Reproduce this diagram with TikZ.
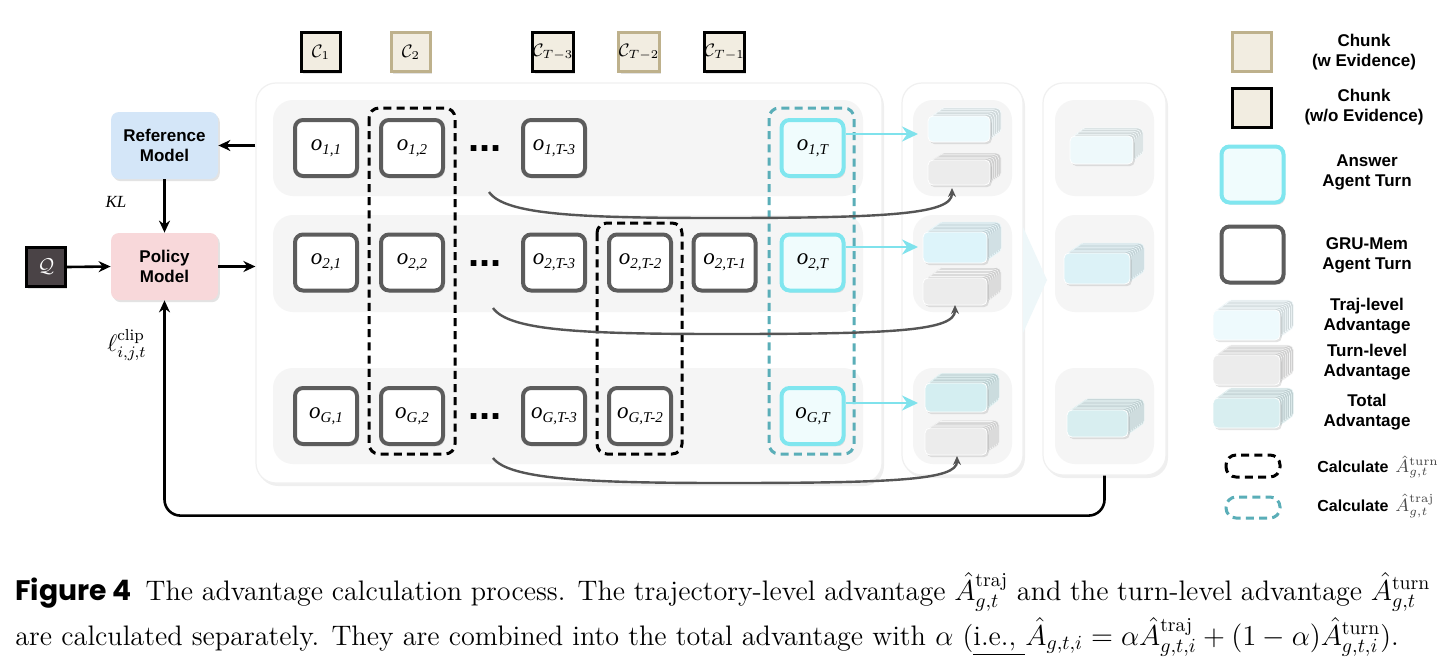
\documentclass[tikz,border=0pt]{standalone}
\usepackage{amsmath}
\usepackage{fontspec}
\newfontfamily\hv{Liberation Sans}
\newfontfamily\tms{Liberation Serif}
\newfontfamily\pop{Poppins}
\usetikzlibrary{arrows.meta,shadows,calc}

\definecolor{chunkfill}{HTML}{F2EDE1}
\definecolor{tanc}{HTML}{BEB18C}
\definecolor{ogray}{HTML}{5C5C5C}
\definecolor{cyanb}{HTML}{80E6EF}
\definecolor{ansfill}{HTML}{F0FCFD}
\definecolor{bandc}{HTML}{F5F5F5}
\definecolor{refc}{HTML}{D4E6F8}
\definecolor{polc}{HTML}{F8D8DA}
\definecolor{qc}{HTML}{4A4346}
\definecolor{tealc}{HTML}{5AAEB8}
\definecolor{arrc}{HTML}{7FE2EC}
\definecolor{curvc}{HTML}{555555}
\definecolor{trajA}{HTML}{EEFAFD}
\definecolor{trajB}{HTML}{DDF4FA}
\definecolor{trajC}{HTML}{D4EEF1}
\definecolor{turnc}{HTML}{ECECEC}
\definecolor{totA}{HTML}{EEF9FB}
\definecolor{totB}{HTML}{DCF2F7}
\definecolor{totC}{HTML}{D8EEF0}
\definecolor{chev}{HTML}{EEF7F9}

\tikzset{
 softshadow/.style={drop shadow={opacity=0.22,shadow xshift=0.9pt,shadow yshift=-1.1pt}},
 panel/.style={fill=white,draw=black!6,line width=0.6pt,rounded corners=10pt,
   drop shadow={opacity=0.12,shadow xshift=1pt,shadow yshift=-1.5pt},inner sep=0pt},
 obox/.style={draw=ogray,line width=2pt,fill=white,rounded corners=4pt,minimum width=31pt,
   minimum height=28pt,inner sep=0pt,softshadow},
 abox/.style={obox,draw=cyanb,fill=ansfill},
 chunkw/.style={draw=tanc,fill=chunkfill,line width=1.5pt,minimum size=19.5pt,inner sep=0pt,
   softshadow,font=\fontsize{9}{11}\selectfont},
 chunko/.style={chunkw,draw=black},
 model/.style={rounded corners=4pt,minimum width=53.5pt,minimum height=33.5pt,align=center,
   inner sep=0pt,font=\hv\bfseries\fontsize{8.5}{10}\selectfont,softshadow},
 blackarrow/.style={-{Stealth[length=6pt,width=5.5pt]},line width=1.3pt},
 cyanarrow/.style={-{Stealth[length=8pt,width=7.5pt]},line width=1.2pt,draw=arrc},
 curvearrow/.style={-{Stealth[length=4.5pt,width=4pt]},line width=1.2pt,draw=curvc},
 grpdash/.style={line width=1.5pt,dash pattern=on 4pt off 2.6pt,rounded corners=5pt},
 legtext/.style={font=\hv\bfseries\fontsize{8.5}{10}\selectfont,align=center},
 ellipsisdots/.style={font=\hv\bfseries\fontsize{20}{20}\selectfont,inner sep=0pt,anchor=base},
 captext/.style={anchor=base west,inner sep=0pt,font=\fontsize{14.1}{17}\selectfont},
}

\newcommand\olab[1]{{\tms\itshape\fontsize{11.5}{12}\selectfont o\raisebox{-2.2pt}{\fontsize{7.5}{8}\selectfont #1}}}

\newcommand\advstack[8]{%
 \foreach \k in {#5,...,1}{%
   \draw[rounded corners=2.5pt,fill=#8!72!gray,draw=#8!55!white,line width=0.3pt]
     ({#1+\k*#6},{#2+\k*#7}) rectangle ++(#3,#4);
 }%
 \draw[rounded corners=2.5pt,fill=#8,draw=white,line width=0.4pt,softshadow] (#1,#2) rectangle ++(#3,#4);
}

\begin{document}
\begin{tikzpicture}[x=0.5pt,y=-0.5pt]
\useasboundingbox (0,0) rectangle (1449,669);
\fill[white] (0,0) rectangle (1449,669);

% panels
\node[panel,minimum width=313pt,minimum height=200pt] (mainp) at (569,283) {};
\node[panel,minimum width=60.5pt,minimum height=196pt] (advp) at (962.5,279) {};
\node[panel,minimum width=61.5pt,minimum height=196pt] (totp) at (1104.5,279) {};
\fill[chev] (1023,227) -- (1047,280) -- (1023,333) -- cycle;

% bands
\foreach \ya/\yb in {100/196,215/312,368/464}{
  \fill[bandc,rounded corners=10pt] (273,\ya) rectangle (863,\yb);
  \fill[bandc,rounded corners=10pt] (913,\ya) rectangle (1012,\yb);
  \fill[bandc,rounded corners=10pt] (1055,\ya) rectangle (1154,\yb);
}

% chunks
\node[chunko] (c1) at (321,52) {$\mathcal{C}_1$};
\node[chunkw] (c2) at (411,52) {$\mathcal{C}_2$};
\node[chunko] (c3) at (553,52) {$\mathcal{C}_{T-3}$};
\node[chunkw] (c4) at (639,52) {$\mathcal{C}_{T-2}$};
\node[chunko] (c5) at (724.5,52) {$\mathcal{C}_{T-1}$};

% dashed groups
\draw[grpdash] (369,108) rectangle (455,454);
\draw[grpdash] (597,223) rectangle (682,454);
\draw[grpdash,draw=tealc] (769,108) rectangle (854,454);

% turns
\node[obox] (o11) at (326,148) {\olab{1,1}};
\node[obox] (o12) at (412,148) {\olab{1,2}};
\node[obox] (o13) at (554,148) {\olab{1,T-3}};
\node[abox] (o1T) at (812.5,148) {\olab{1,T}};
\node[obox] (o21) at (326,262.5) {\olab{2,1}};
\node[obox] (o22) at (412,262.5) {\olab{2,2}};
\node[obox] (o23) at (554,262.5) {\olab{2,T-3}};
\node[obox] (o24) at (640,262.5) {\olab{2,T-2}};
\node[obox] (o25) at (724.5,262.5) {\olab{2,T-1}};
\node[abox] (o2T) at (812.5,262.5) {\olab{2,T}};
\node[obox] (oG1) at (326,416) {\olab{G,1}};
\node[obox] (oG2) at (412,416) {\olab{G,2}};
\node[obox] (oG3) at (554,416) {\olab{G,T-3}};
\node[obox] (oG4) at (640,416) {\olab{G,T-2}};
\node[abox] (oGT) at (812.5,416) {\olab{G,T}};

\node[ellipsisdots] (d1) at (485,151) {...};
\node[ellipsisdots] (d2) at (485,266) {...};
\node[ellipsisdots] (d3) at (485,419) {...};

% advantage stacks
\advstack{928}{116}{62}{26}{5}{2.2}{-1.6}{trajA}
\advstack{928}{160}{62}{25}{5}{2.2}{-1.4}{turnc}
\advstack{923}{232}{64}{31}{7}{2}{-1.4}{trajB}
\advstack{923}{278}{64}{27}{7}{2}{-1.5}{turnc}
\advstack{925}{383}{62}{29}{6}{2}{-1.6}{trajC}
\advstack{925}{428}{62}{27}{6}{2}{-1.3}{turnc}
\advstack{1070}{136}{63}{28}{5}{2}{-1.6}{totA}
\advstack{1064}{253}{66}{31}{7}{2}{-1.4}{totB}
\advstack{1067}{410}{61}{27}{8}{2}{-1.4}{totC}

% cyan arrows
\coordinate (t1) at (918,134);
\coordinate (t2) at (918,247);
\coordinate (t3) at (918,403);
\draw[cyanarrow] (o1T.east |- t1) -- (t1);
\draw[cyanarrow] (o2T.east |- t2) -- (t2);
\draw[cyanarrow] (oGT.east |- t3) -- (t3);

% curved arrows
\coordinate (s1) at (489,192); \coordinate (e1) at (952,188);
\coordinate (s2) at (493,308); \coordinate (e2) at (955,305);
\coordinate (s3) at (493,458); \coordinate (e3) at (957,456);
\draw[curvearrow] (s1) .. controls (505,215) and (580,218) .. (720,218) .. controls (890,218) and (952,214) .. (e1);
\draw[curvearrow] (s2) .. controls (509,331) and (584,334) .. (724,334) .. controls (893,334) and (955,331) .. (e2);
\draw[curvearrow] (s3) .. controls (509,479) and (584,483) .. (724,483) .. controls (895,483) and (957,480) .. (e3);

% models
\node[model,fill=refc] (ref) at (164.5,145.5) {Reference\\Model};
\node[model,fill=polc] (pol) at (164.5,266.5) {Policy\\Model};
\node[draw=black,line width=1.2pt,fill=qc,minimum size=19.5pt,inner sep=0pt,text=white,softshadow,
  font=\fontsize{10}{12}\selectfont] (q) at (46,267) {$\mathcal{Q}$};
\draw[blackarrow] (mainp.west |- ref.east) -- (ref.east);
\draw[blackarrow] (ref.south) -- (pol.north);
\draw[blackarrow] (q.east) -- (pol.west);
\draw[blackarrow] (pol.east) -- (pol.east -| mainp.west);
\draw[blackarrow,rounded corners=8pt] (totp.south) -- ++(0,40) -| (pol.south);

\node[font=\tms\itshape\fontsize{8.5}{10}\selectfont] (kl) at (116,202) {KL};
\node[font=\fontsize{12}{14}\selectfont] (lclip) at (127,345) {$\ell^{\mathrm{clip}}_{i,j,t}$};

% legend
\node[chunkw] (lc1) at (1251.5,51.5) {};
\node[legtext] (lt1) at (1364,52) {Chunk\\(w Evidence)};
\node[chunko] (lc2) at (1251.5,107.5) {};
\node[legtext] (lt2) at (1364,107) {Chunk\\(w/o Evidence)};
\node[abox] (la) at (1252.5,174.5) {};
\node[legtext] (lt3) at (1367,172) {Answer\\Agent Turn};
\node[obox] (lg) at (1252.5,254.5) {};
\node[legtext] (lt4) at (1367,255) {GRU-Mem\\Agent Turn};
\advstack{1213}{310}{67}{30}{7}{1.9}{-1.4}{trajA}
\advstack{1213}{355}{67}{30}{7}{1.9}{-1.4}{turnc}
\advstack{1213}{398}{67}{30}{7}{1.9}{-1.4}{totC}
\node[legtext] (lt5) at (1367,316) {Traj-level\\Advantage};
\node[legtext] (lt6) at (1367,362) {Turn-level\\Advantage};
\node[legtext] (lt7) at (1367,412) {Total\\Advantage};
\draw[grpdash] (1226,455) rectangle (1280,477);
\draw[grpdash,draw=tealc] (1226,497) rectangle (1280,518);
\node[legtext,anchor=west,inner sep=0pt,font=\hv\bfseries\fontsize{8}{10}\selectfont] (lt8) at (1317,467) {Calculate};
\node[anchor=west,inner sep=0pt,text=black!70,font=\fontsize{8.8}{10}\selectfont] (lm8) at (1395,467) {$\hat{A}^{\mathrm{turn}}_{g,t}$};
\node[legtext,anchor=west,inner sep=0pt,font=\hv\bfseries\fontsize{8}{10}\selectfont] (lt9) at (1317,506) {Calculate};
\node[anchor=west,inner sep=0pt,text=black!70,font=\fontsize{8.8}{10}\selectfont] (lm9) at (1395,506) {$\hat{A}^{\mathrm{traj}}_{g,t}$};

% caption
\node[captext] (cap1) at (15,600)
 {\hbox to 707.5pt{{\pop\bfseries Figure 4}\hspace{0.5em}The advantage calculation process. The trajectory-level advantage $\hat{A}^{\text{traj}}_{g,t}$ and the turn-level advantage $\hat{A}^{\text{turn}}_{g,t}$}};
\node[captext] (cap2) at (15,645)
 {are calculated separately. They are combined into the total advantage with $\alpha$ (\underline{i.e.,\ }$\hat{A}_{g,t,i} = \alpha\hat{A}^{\text{traj}}_{g,t,i} + (1-\alpha)\hat{A}^{\text{turn}}_{g,t,i}$).};
\end{tikzpicture}
\end{document}
